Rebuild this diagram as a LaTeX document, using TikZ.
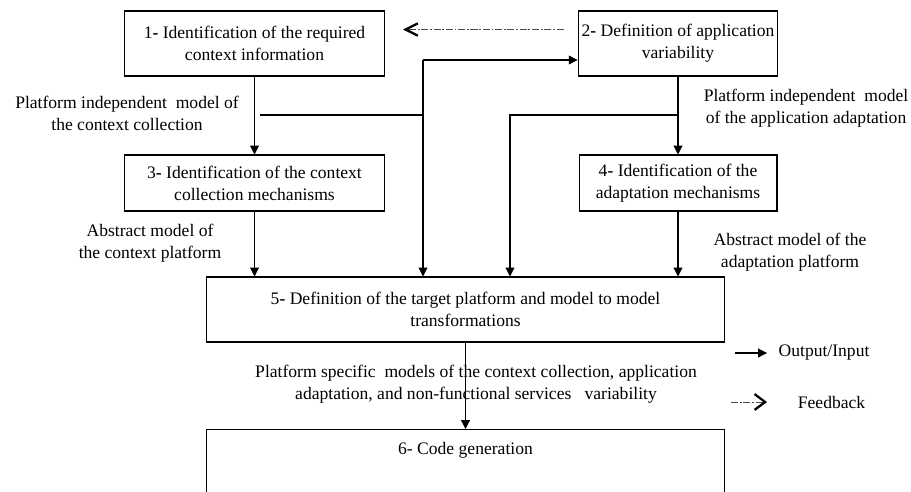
\documentclass[tikz,border=0pt]{standalone}
\usepackage{fontspec}
\setmainfont{Liberation Serif}
\usetikzlibrary{arrows.meta,positioning}

\begin{document}
\begin{tikzpicture}[x=0.02cm,y=-0.02cm,line width=0.6pt,
    every node/.style={font=\fontsize{10}{12.5}\selectfont,align=center},
    >={Triangle[length=5pt,width=5pt]},
    stepbox/.style={draw,inner sep=2pt},
    feedback/.style={line width=0.5pt,draw=black!70,dash pattern=on 4pt off 1pt on 1pt off 1pt},
    fbtip/.style 2 args={-{Straight Barb[length=#1,width=#2,line width=1.3pt,black]}}]
  \useasboundingbox (0,0) rectangle (911,491);
  \clip (0,0) rectangle (911,491);
  % steps
  \node[stepbox,minimum width=5.2cm,minimum height=1.3cm](b1) at (254.5,43.5)
    {1\textbf{-} Identification of the required\\context information};
  \node[stepbox,minimum width=3.96cm,minimum height=1.3cm](b2) at (678,43.5)
    {2\textbf{-} Definition of application\\variability};
  \node[stepbox,minimum width=5.2cm,minimum height=1.12cm](b3) at (254.5,183)
    {3\textbf{-} Identification of the context\\collection mechanisms};
  \node[stepbox,minimum width=3.96cm,minimum height=1.12cm](b4) at (678,183)
    {4\textbf{-} Identification of the\\adaptation mechanisms};
  \node[stepbox,minimum width=10.38cm,minimum height=1.3cm](b5) at (465.5,309.5)
    {5\textbf{-} Definition of the target platform and model to model\\transformations};
  \node[stepbox,anchor=north,minimum width=10.38cm,inner ysep=7pt,text depth=2cm](b6)
    at (465.5,429){6- Code generation};
  % models
  \node(pimctx) at (127,113){Platform independent\ \ model of\\the context collection};
  \node(amctx) at (150,243){Abstract model of\\the context platform};
  \node(pimapp) at (806,108){Platform independent\ \ model\\of the application adaptation};
  \node(amapp) at (790,252){Abstract model of the\\adaptation platform};
  \node(psm) at (476,384){Platform specific\ \ models of the context collection, application\\
    adaptation, and non-functional services\ \ \ variability};
  % output/input
  \draw[->](b1)--(b3);
  \draw[->](b3)--(b5.north-|b3);
  \draw[->](b2)--(b4);
  \draw[->](b4)--(b5.north-|b4);
  \draw[->](b5)--(b6);
  \coordinate(j1) at (423,60);
  \coordinate(c1) at (260,115);
  \draw(c1)--(c1-|j1);
  \draw[->](j1)--(j1-|b2.west);
  \draw[->](j1)--(j1|-b5.north);
  \coordinate(c2) at (678,115);
  \coordinate(c3) at (510,115);
  \draw[->](c2)--(c3)--(c3|-b5.north);
  % feedback
  \draw[feedback,fbtip={7pt}{7pt}]([shift={(-14,-14)}]b2.west)--([shift={(18,-14)}]b1.east);
  % legend
  \coordinate(o1) at (735,353);
  \coordinate(o2) at (767,353);
  \draw[->](o1)--(o2)node[right=3pt](lio){Output/Input};
  \coordinate(f1) at (731,402);
  \coordinate(f2) at (767,402);
  \draw[feedback,fbtip={6pt}{9pt}](f1)--(f2)node[right=14pt](lfb){Feedback};
\end{tikzpicture}
\end{document}
